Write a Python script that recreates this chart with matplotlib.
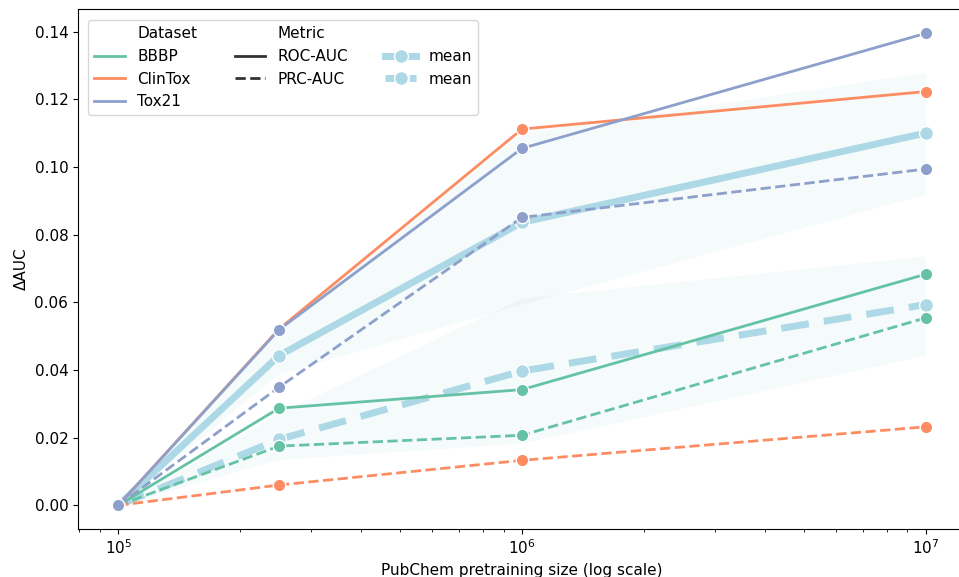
import numpy as np
import matplotlib.pyplot as plt
from matplotlib.lines import Line2D

# pretraining sizes
sizes = [1e5, 2.5e5, 1e6, 1e7]
datasets = ["BBBP", "ClinTox", "Tox21"]
colors = {"BBBP": "#66c2a5", "ClinTox": "#fc8d62", "Tox21": "#8da0cb"}

# delta AUC per dataset
roc_auc = {
    "BBBP": [0.0, 0.0287, 0.0342, 0.0683],
    "ClinTox": [0.0, 0.0521, 0.1112, 0.1223],
    "Tox21": [0.0, 0.0519, 0.1055, 0.1395],
}
prc_auc = {
    "BBBP": [0.0, 0.0175, 0.0207, 0.0554],
    "ClinTox": [0.0, 0.0060, 0.0133, 0.0232],
    "Tox21": [0.0, 0.0349, 0.0851, 0.0994],
}

# confidence bands around the means
roc_band_lo = [0.0, 0.0390, 0.0595, 0.0920]
roc_band_hi = [0.0, 0.0521, 0.1100, 0.1280]
prc_band_lo = [0.0, 0.0136, 0.0184, 0.0444]
prc_band_hi = [0.0, 0.0272, 0.0613, 0.0737]

mean_color = "lightblue"

fig = plt.figure(figsize=(9.59, 5.77), dpi=100)
ax = fig.add_axes([78 / 959, 48 / 577, 888 / 959, 520 / 577])

roc_mean = np.mean([roc_auc[d] for d in datasets], axis=0)
prc_mean = np.mean([prc_auc[d] for d in datasets], axis=0)

ax.fill_between(sizes, roc_band_lo, roc_band_hi, color=mean_color, alpha=0.12, lw=0, zorder=1)
ax.fill_between(sizes, prc_band_lo, prc_band_hi, color=mean_color, alpha=0.12, lw=0, zorder=1)

ax.plot(sizes, roc_mean, color=mean_color, lw=5, marker="o", ms=10,
        mec="white", mew=1, zorder=2)
ax.plot(sizes, prc_mean, color=mean_color, lw=5, ls=(0, (4, 2.2)), marker="o", ms=10,
        mec="white", mew=1, zorder=2)

for d in datasets:
    ax.plot(sizes, roc_auc[d], color=colors[d], lw=2, marker="o", ms=9,
            mec="white", mew=1, zorder=3)
    ax.plot(sizes, prc_auc[d], color=colors[d], lw=2, ls="--", marker="o", ms=9,
            mec="white", mew=1, zorder=3)

ax.set_xscale("log")
ax.set_xlim(10 ** 4.9, 10 ** 7.1)
ax.set_ylim(-0.007, 0.1467)
ax.set_xlabel("PubChem pretraining size (log scale)", fontsize=11)
ax.set_ylabel("ΔAUC", fontsize=11)
ax.tick_params(labelsize=11)

blank = Line2D([], [], color="none")
handles = [blank] + [Line2D([], [], color=colors[d], lw=2) for d in datasets]
labels = ["Dataset"] + datasets
handles += [blank,
            Line2D([], [], color="#333333", lw=2),
            Line2D([], [], color="#333333", lw=2, ls="--"),
            blank, blank,
            Line2D([], [], color=mean_color, lw=5, marker="o", ms=10, mec="white", mew=1),
            Line2D([], [], color=mean_color, lw=5, ls=(0, (2, 1.5)), marker="o", ms=10,
                   mec="white", mew=1)]
labels += ["Metric", "ROC-AUC", "PRC-AUC", "", "", "mean", "mean"]
ax.legend(handles, labels, ncol=3, loc="upper left", fontsize=11,
          bbox_to_anchor=(0.003, 0.993), columnspacing=2.45)

fig.savefig("out.png", dpi=100)
